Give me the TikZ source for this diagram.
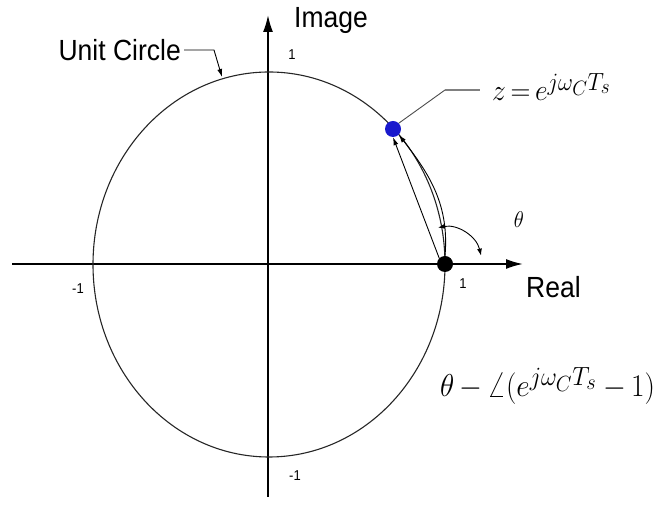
\documentclass[tikz,border=0pt]{standalone}
\usepackage{fontspec}
\usepackage{graphicx}
\setmainfont{Liberation Sans}
\usetikzlibrary{arrows.meta}
\definecolor{dotblue}{RGB}{25,25,205}
\newcommand{\vstr}[1]{\scalebox{1}[1.1]{#1}}
\begin{document}
\begin{tikzpicture}[x=1pt,y=1pt,
  lbl/.style={font=\fontsize{26.5}{30}\selectfont, inner sep=0pt},
  num/.style={font=\fontsize{13}{15}\selectfont, inner sep=0pt},
  mth/.style={font=\fontsize{24.88}{30}\selectfont, inner sep=0pt},
  axis/.style={line width=1.8pt, -{Latex[length=17pt,width=10pt]}},
  dot/.style={circle, inner sep=0pt, minimum size=16pt},
  tip/.style={-{Latex[length=8pt,width=5pt]}, line width=0.9pt},
]
\useasboundingbox (0,0) rectangle (661,508);
% axes
\coordinate (xl) at (12,244);
\coordinate (xr) at (523,244);
\coordinate (yb) at (268,11);
\coordinate (yt) at (268,493);
\draw[axis] (xl) -- (xr);
\draw[axis] (yb) -- (yt);
% unit circle
\coordinate (O) at (269,243.5);
\draw[line width=1.1pt, black!85] (O) ellipse [x radius=176, y radius=192.5];
% points
\node[dot, fill=black] (P1) at (445,244) {};
\node[dot, fill=dotblue] (Pz) at (393,379) {};
% labels
\node[lbl, anchor=west] (img) at (294,487) {\vstr{Image}};
\node[lbl, anchor=west] (real) at (526,221) {\vstr{Real}};
\node[lbl, anchor=east] (uc) at (181,458) {\vstr{Unit Circle}};
\node[num] (n1t) at (292,453) {\vstr{1}};
\node[num] (n1r) at (463,224) {\vstr{1}};
\node[num] (nm1l) at (78,219) {\vstr{-1}};
\node[num] (nm1b) at (295,32) {\vstr{-1}};
% unit circle leader
\coordinate (ucb) at (214,458);
\coordinate (uct) at (222,431);
\draw[tip] (uc.east) ++(3,0) -- (ucb) -- (uct);
% z label
\node[mth, anchor=west] (zl) at (492,421) {\scalebox{1.11}[1.2]{$z\mkern3mu{=}\mkern3mu e^{j\omega_C T_s}$}};
\coordinate (zk) at (445,418);
\draw[gray!60!black, line width=0.9pt] (Pz.north east) -- (zk);
\draw[gray, line width=1.8pt] (zk) -- (480,418);
% chord and arc arrows
\draw[tip] (P1.north west) -- (Pz.south);
\draw[tip] (P1.north) to[out=85, in=-52] (Pz.south east);
% theta arc
\draw[line width=0.9pt, {Latex[length=7pt,width=5pt]}-{Latex[length=7pt,width=5pt]}] (P1.center) ++(101:37) arc[start angle=101, end angle=13, radius=37];
\node[font=\fontsize{20.74}{24}\selectfont, inner sep=0pt] (th) at (519,288) {\vstr{$\theta$}};
% big formula
\node[mth, anchor=west] (bf) at (440,122) {\scalebox{1.18}[1.27]{$\theta\mkern3mu{-}\mkern3mu\angle(e^{j\omega_C T_s}\mkern4mu{-}\mkern3mu1)$}};
\end{tikzpicture}
\end{document}
